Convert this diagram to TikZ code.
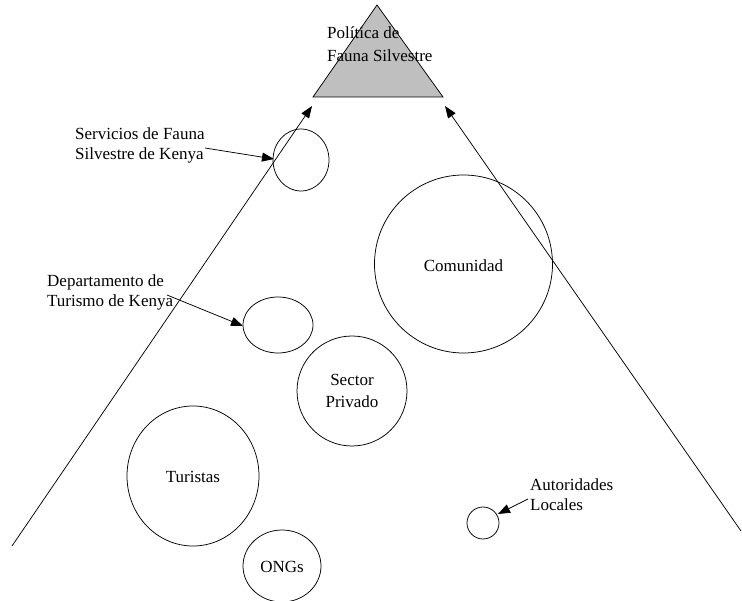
\documentclass[tikz,border=0pt]{standalone}
\usepackage{fontspec}
\setmainfont{Liberation Serif}
\usetikzlibrary{arrows.meta}
\begin{document}
\begin{tikzpicture}[x=1pt,y=-1pt,
  lbl/.style={font=\fontsize{17}{20}\selectfont,align=left,inner sep=0pt},
  ring/.style={line width=0.75pt},
  arr/.style={line width=0.75pt,-{Triangle[length=12pt,width=9pt]}}]
\useasboundingbox (0,0) rectangle (742,601);
% triangle
\coordinate (apex) at (377,5);
\coordinate (bl) at (313,97);
\coordinate (br) at (443,97);
\filldraw[fill=black!25,line width=0.75pt] (apex) -- (bl) -- (br) -- cycle;
\node[lbl,anchor=north west,font=\fontsize{17}{23}\selectfont] (pol) at (327,26) {Política de\\Fauna Silvestre};
% long lines
\coordinate (lb) at (12,546);
\coordinate (lt) at (312,106);
\coordinate (rb) at (741,531);
\coordinate (rt) at (445,106);
\draw[arr] (lb) -- (lt);
\draw[arr] (rb) -- (rt);
% circles
\draw[ring] (301,160) ellipse [x radius=28,y radius=31];
\coordinate (kws) at (274,159);
\draw[ring] (278,325) ellipse [x radius=35,y radius=28];
\coordinate (ktd) at (243,326);
\draw[ring] (463.5,264) circle [radius=89];
\node[lbl] (com) at (463.5,266) {Comunidad};
\draw[ring] (352,391) circle [radius=55];
\node[lbl,align=center,font=\fontsize{17}{22}\selectfont] (sp) at (352,391) {Sector\\Privado};
\draw[ring] (193,476) ellipse [x radius=66,y radius=70];
\node[lbl] (tur) at (193,477) {Turistas};
\draw[ring] (282,566) ellipse [x radius=39,y radius=36];
\node[lbl] (ong) at (282,567) {ONGs};
\draw[ring] (483,523) circle [radius=16];
\coordinate (al) at (498,514);
% labels
\node[lbl,anchor=north west] (kwsl) at (75,128) {Servicios de Fauna\\Silvestre de Kenya};
\coordinate (kwsa) at (205,148);
\draw[arr] (kwsa) -- (kws);
\node[lbl,anchor=north west] (ktdl) at (47,275) {Departamento de\\Turismo de Kenya};
\coordinate (ktda) at (167,295);
\draw[arr] (ktda) -- (ktd);
\node[lbl,anchor=north west] (all) at (530,479) {Autoridades\\Locales};
\coordinate (ala) at (528,499);
\draw[arr] (ala) -- (al);
\end{tikzpicture}
\end{document}
